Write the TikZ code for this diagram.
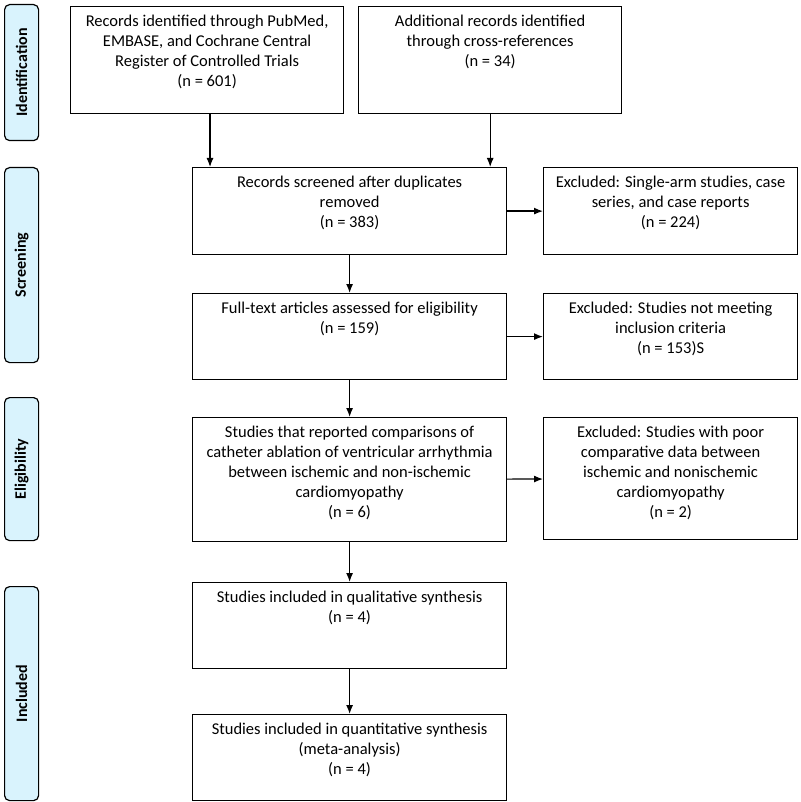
\documentclass[tikz,border=0pt]{standalone}
\usepackage{fontspec}
\setmainfont{Carlito}
\usetikzlibrary{arrows.meta}

% box with text set from the top
\newcommand{\boxtxt}[3]{\parbox[t][#2pt][t]{#1pt}{\centering\vspace*{8pt}#3}}

\begin{document}
\begin{tikzpicture}[x=1pt,y=-1pt,
    box/.style={draw, line width=1.2pt, inner sep=0pt, anchor=north west,
                font=\fontsize{16.5}{20}\selectfont},
    stage/.style={draw, line width=1.2pt, fill=cyan!15, rounded corners=5pt,
                  anchor=north west, minimum width=34pt, inner sep=0pt},
    stagetxt/.style={rotate=90, font=\fontsize{16}{18}\selectfont\bfseries},
    arr/.style={-{Latex[length=9pt,width=7pt]}, line width=1.2pt}]
    \useasboundingbox (0,0) rectangle (800,802);

    % Stage bars
    \node[stage, minimum height=136pt] (sid) at (4,4) {};
    \node[stagetxt] at (sid) {Identification};
    \node[stage, minimum height=195pt] (ssc) at (4,167) {};
    \node[stagetxt] at (ssc) {Screening};
    \node[stage, minimum height=143pt] (sel) at (4,397) {};
    \node[stagetxt] at (sel) {Eligibility};
    \node[stage, minimum height=214pt] (sin) at (4,586) {};
    \node[stagetxt] at (sin) {Included};

    % Boxes
    \node[box] (recdb) at (70,6) {\boxtxt{273}{107}{Records identified through PubMed,\\EMBASE, and Cochrane Central\\Register of Controlled Trials\\(n = 601)}};
    \node[box] (recref) at (358,6) {\boxtxt{263}{107}{Additional records identified\\through cross-references\\(n = 34)}};
    \node[box] (screen) at (192,167) {\boxtxt{314}{87}{Records screened after duplicates\\removed\\(n = 383)}};
    \node[box] (exa) at (543,167) {\boxtxt{254}{87}{Excluded: Single-arm studies, case\\series, and case reports\\(n = 224)}};
    \node[box] (full) at (192,293) {\boxtxt{314}{86}{Full-text articles assessed for eligibility\\(n = 159)}};
    \node[box] (exb) at (543,293) {\boxtxt{254}{86}{Excluded: Studies not meeting\\inclusion criteria\\(n = 153)S}};
    \node[box] (elig) at (192,417) {\boxtxt{314}{124}{Studies that reported comparisons of\\catheter ablation of ventricular arrhythmia\\between ischemic and non-ischemic\\cardiomyopathy\\(n = 6)}};
    \node[box] (exc) at (543,417) {\boxtxt{254}{122}{Excluded: Studies with poor\\comparative data between\\ischemic and nonischemic\\cardiomyopathy\\(n = 2)}};
    \node[box] (qual) at (192,582) {\boxtxt{314}{86}{Studies included in qualitative synthesis\\(n = 4)}};
    \node[box] (quant) at (192,714) {\boxtxt{314}{86}{Studies included in quantitative synthesis\\(meta-analysis)\\(n = 4)}};

    % Arrows
    \draw[arr] ([xshift=18pt]screen.north west |- recdb.south) -- ([xshift=18pt]screen.north west);
    \draw[arr] ([xshift=-17pt]screen.north east |- recref.south) -- ([xshift=-17pt]screen.north east);
    \draw[arr] (screen) -- (exa);
    \draw[arr] (full.east) -- (exb.west);
    \draw[arr] (elig) -- (exc);
    \draw[arr] (screen) -- (full);
    \draw[arr] (full) -- (elig);
    \draw[arr] (elig) -- (qual);
    \draw[arr] (qual) -- (quant);
\end{tikzpicture}
\end{document}
